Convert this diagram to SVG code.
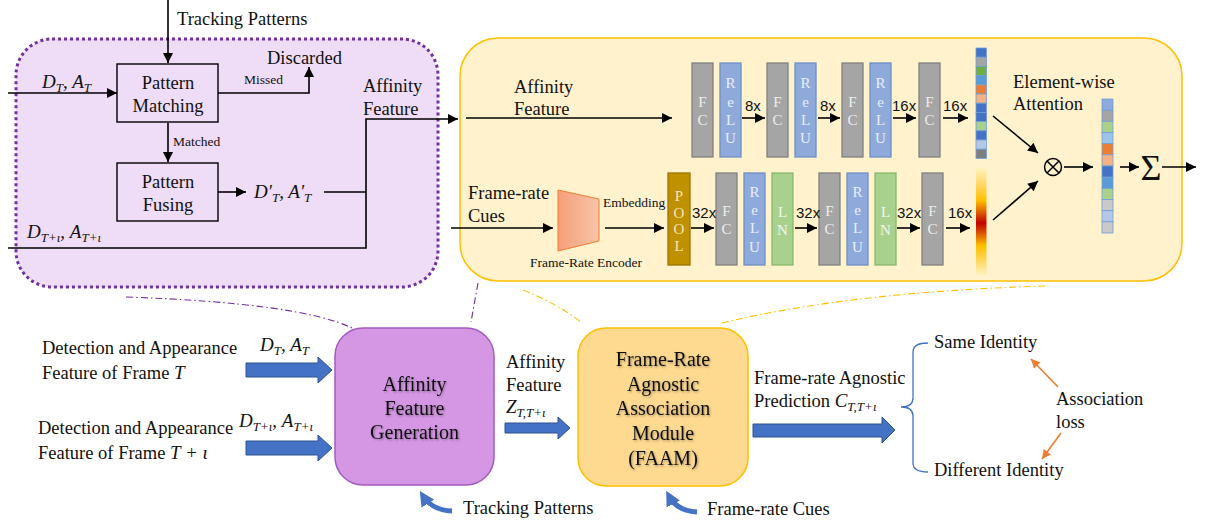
<svg xmlns="http://www.w3.org/2000/svg" width="1207" height="524" viewBox="0 0 1207 524">
<defs>
<style>
.t{font-family:"Liberation Serif","Times New Roman",serif;font-size:18.5px;fill:#111}
.ts{font-family:"Liberation Serif","Times New Roman",serif;font-size:13.5px;fill:#111}
.m{font-family:"Liberation Serif","Times New Roman",serif;font-style:italic;font-size:19px;fill:#111}
.sb{font-size:13px}
.n{font-family:"Liberation Sans",Arial,sans-serif;font-size:15px;fill:#111}
.big{font-family:"Liberation Serif","Times New Roman",serif;font-size:20px;fill:#111}
.bl{font-family:"Liberation Serif","Times New Roman",serif;font-size:15px;text-anchor:middle}
.ln{fill:none;stroke:#000;stroke-width:1.4}
.ah{fill:none;stroke:#000;stroke-width:1.6;marker-end:url(#ah)}
.fc{fill:#a5a5a5;stroke:#808080;stroke-width:1.3}
.relu{fill:#8eaadb;stroke:#6f8fc6;stroke-width:1.3}
.lnb{fill:#a9d18e;stroke:#88b86a;stroke-width:1.3}
.pool{fill:#bf9000;stroke:#9c7600;stroke-width:1.3}
.barrow{fill:#4472c4;stroke:#2f528f;stroke-width:1}
.cell{stroke:#6f9fd8;stroke-width:0.8}
.dpu{fill:none;stroke:#7030a0;stroke-width:1.1;stroke-dasharray:7 3 1.5 3}
.dye{fill:none;stroke:#ffc000;stroke-width:1.1;stroke-dasharray:7 3 1.5 3}
</style>
<marker id="ah" viewBox="0 0 10 10" refX="10" refY="5" markerWidth="11" markerHeight="10" markerUnits="userSpaceOnUse" orient="auto"><path d="M0,0 L10,5 L0,10 z" fill="#000"/></marker>
<marker id="ao" viewBox="0 0 10 10" refX="10" refY="5" markerWidth="10" markerHeight="9" markerUnits="userSpaceOnUse" orient="auto"><path d="M0,0 L10,5 L0,10 z" fill="#ed7d31"/></marker>
<marker id="ab" viewBox="0 0 10 10" refX="6" refY="5" markerWidth="15" markerHeight="15" markerUnits="userSpaceOnUse" orient="auto"><path d="M0,0 L10,5 L0,10 z" fill="#4472c4"/></marker>
<linearGradient id="trap" x1="0" y1="0" x2="1" y2="0"><stop offset="0" stop-color="#f4a07a"/><stop offset="1" stop-color="#f8c4a8"/></linearGradient>
<linearGradient id="heat" x1="0" y1="0" x2="0" y2="1"><stop offset="0" stop-color="#fff2c0"/><stop offset="0.15" stop-color="#ffd966"/><stop offset="0.3" stop-color="#ffc000"/><stop offset="0.51" stop-color="#c00000"/><stop offset="0.72" stop-color="#ffc000"/><stop offset="0.87" stop-color="#ffd966"/><stop offset="1" stop-color="#fff2c8"/></linearGradient>
<filter id="sh" x="-10%" y="-10%" width="120%" height="130%"><feDropShadow dx="1" dy="1.2" stdDeviation="0.8" flood-color="#000" flood-opacity="0.35"/></filter>
</defs>
<rect width="1207" height="524" fill="#fff"/>

<!-- containers -->
<g id="affinity-generation-detail">
<rect x="16" y="39" width="422" height="248" rx="36" fill="#efdcf6" stroke="#7030a0" stroke-width="3" stroke-dasharray="3 3"/>
</g>
<g id="faam-detail">
<rect x="460" y="38" width="722" height="243" rx="38" fill="#fff2cc" stroke="#ffc000" stroke-width="1.5"/>
</g>

<!-- connectors -->
<g id="connectors">
<path class="dpu" d="M126,297 Q300,303 352,328"/>
<path class="dpu" d="M478,283 L471,322"/>
<path class="dye" d="M523,290 Q560,305 582,323"/>
<path class="dye" d="M722,323 Q850,292 1045,286"/>

<line class="ah" x1="168" y1="0" x2="168" y2="63"/>
<line class="ah" x1="8" y1="93" x2="117" y2="93"/>
<polyline class="ah" points="218,93 309,93 309,67"/>
<line class="ah" x1="168" y1="123" x2="168" y2="162"/>
<line class="ah" x1="218" y1="192" x2="246" y2="192"/>
<line class="ln" x1="324" y1="192" x2="366" y2="192"/>
<polyline class="ah" points="8,248 366,248 366,119 458,119"/>

<line class="ah" x1="466" y1="118" x2="672" y2="118"/>
<line class="ah" x1="451" y1="228" x2="553" y2="228"/>
<line class="ah" x1="605" y1="228" x2="664" y2="228"/>

<line class="ah" x1="742" y1="118" x2="765" y2="118"/>
<line class="ah" x1="818" y1="118" x2="840" y2="118"/>
<line class="ah" x1="893" y1="118" x2="916" y2="118"/>
<line class="ah" x1="943" y1="118" x2="968" y2="118"/>

<line class="ah" x1="691" y1="228" x2="714" y2="228"/>
<line class="ah" x1="795" y1="228" x2="817" y2="228"/>
<line class="ah" x1="897" y1="228" x2="920" y2="228"/>
<line class="ah" x1="946" y1="228" x2="970" y2="228"/>

<line class="ah" x1="993" y1="116" x2="1038" y2="153"/>
<line class="ah" x1="993" y1="220" x2="1038" y2="181"/>
<line class="ah" x1="1064" y1="167" x2="1093" y2="167"/>
<line class="ah" x1="1120" y1="167" x2="1139" y2="167"/>
<line class="ah" x1="1162" y1="167" x2="1196" y2="167"/>

<!-- block arrows -->
<path class="barrow" d="M246,363 H318 V357 L332,370 L318,383 V377 H246 Z"/>
<path class="barrow" d="M246,441 H318 V435 L332,448 L318,461 V455 H246 Z"/>
<path class="barrow" d="M505,423 H558 V417 L570,428 L558,439 V433 H505 Z"/>
<path class="barrow" d="M753,424 H882 V417 L895,430 L882,443 V437 H753 Z"/>

<!-- curved blue arrows -->
<path d="M452,511 Q432,510 423,496" fill="none" stroke="#4472c4" stroke-width="5" marker-end="url(#ab)"/>
<path d="M697,512 Q677,511 669,496" fill="none" stroke="#4472c4" stroke-width="5" marker-end="url(#ab)"/>

<!-- brace -->
<path d="M928,343 Q913,343 913,352 L913,398 Q913,407 901,407 Q913,407 913,416 L913,463 Q913,472 928,472" fill="none" stroke="#4472c4" stroke-width="1.3"/>

<!-- orange arrows -->
<line x1="1058" y1="387" x2="1031" y2="359" stroke="#ed7d31" stroke-width="1.6" marker-end="url(#ao)"/>
<line x1="1061" y1="433" x2="1042" y2="459" stroke="#ed7d31" stroke-width="1.6" marker-end="url(#ao)"/>
</g>

<!-- top-left detail nodes -->
<text class="t" x="177" y="25">Tracking Patterns</text>
<g id="pattern-matching">
<rect x="117" y="64" width="101" height="58" fill="#efdcf6" stroke="#000" stroke-width="1.4"/>
<text class="t" x="168" y="89" text-anchor="middle">Pattern</text>
<text class="t" x="168" y="112" text-anchor="middle">Matching</text>
</g>
<g id="pattern-fusing">
<rect x="117" y="163" width="101" height="58" fill="#efdcf6" stroke="#000" stroke-width="1.4"/>
<text class="t" x="168" y="188" text-anchor="middle">Pattern</text>
<text class="t" x="168" y="211" text-anchor="middle">Fusing</text>
</g>
<text class="m" x="42" y="88">D<tspan class="sb" dy="4">T</tspan><tspan dy="-4">, A</tspan><tspan class="sb" dy="4">T</tspan></text>
<text class="ts" x="244" y="84">Missed</text>
<text class="t" x="267" y="64">Discarded</text>
<text class="ts" x="173" y="146">Matched</text>
<text class="m" x="254" y="198">D′<tspan class="sb" dy="4">T</tspan><tspan dy="-4">, A′</tspan><tspan class="sb" dy="4">T</tspan></text>
<text class="t" x="363" y="92">Affinity</text>
<text class="t" x="363" y="115">Feature</text>
<text class="m" x="27" y="238">D<tspan class="sb" dy="4">T+ι</tspan><tspan dy="-4">, A</tspan><tspan class="sb" dy="4">T+ι</tspan></text>

<!-- FAAM detail -->
<text class="t" x="514" y="93">Affinity</text>
<text class="t" x="514" y="115">Feature</text>
<text class="t" x="468" y="199">Frame-rate</text>
<text class="t" x="468" y="222">Cues</text>

<g id="frame-rate-encoder">
<polygon points="558,190 599,199 599,241 558,251" fill="url(#trap)" stroke="#ed7d31" stroke-width="1"/>
<text class="ts" x="586" y="267" text-anchor="middle">Frame-Rate Encoder</text>
</g>
<text class="ts" x="603" y="207">Embedding</text>

<g id="top-branch">
<rect class="fc" x="692" y="63" width="21" height="94"/>
<text class="bl" fill="#eee"><tspan x="702.5" y="107">F</tspan><tspan x="702.5" y="125">C</tspan></text>
<rect class="relu" x="720" y="63" width="21" height="94"/>
<text class="bl" fill="#e8eef8"><tspan x="730.5" y="88">R</tspan><tspan x="730.5" y="107">e</tspan><tspan x="730.5" y="125">L</tspan><tspan x="730.5" y="143">U</tspan></text>
<rect class="fc" x="767" y="63" width="21" height="94"/>
<text class="bl" fill="#eee"><tspan x="777.5" y="107">F</tspan><tspan x="777.5" y="125">C</tspan></text>
<rect class="relu" x="795" y="63" width="21" height="94"/>
<text class="bl" fill="#e8eef8"><tspan x="805.5" y="88">R</tspan><tspan x="805.5" y="107">e</tspan><tspan x="805.5" y="125">L</tspan><tspan x="805.5" y="143">U</tspan></text>
<rect class="fc" x="842" y="63" width="21" height="94"/>
<text class="bl" fill="#eee"><tspan x="852.5" y="107">F</tspan><tspan x="852.5" y="125">C</tspan></text>
<rect class="relu" x="870" y="63" width="21" height="94"/>
<text class="bl" fill="#e8eef8"><tspan x="880.5" y="88">R</tspan><tspan x="880.5" y="107">e</tspan><tspan x="880.5" y="125">L</tspan><tspan x="880.5" y="143">U</tspan></text>
<rect class="fc" x="919" y="63" width="21" height="94"/>
<text class="bl" fill="#eee"><tspan x="929.5" y="107">F</tspan><tspan x="929.5" y="125">C</tspan></text>
<text class="n" x="745" y="111">8x</text>
<text class="n" x="820" y="111">8x</text>
<text class="n" x="892" y="111">16x</text>
<text class="n" x="943" y="111">16x</text>
</g>

<g id="bottom-branch">
<rect class="pool" x="668" y="173" width="22" height="92"/>
<text class="bl" fill="#f6e6b8"><tspan x="679" y="201">P</tspan><tspan x="679" y="218">O</tspan><tspan x="679" y="234">O</tspan><tspan x="679" y="251">L</tspan></text>
<rect class="fc" x="716" y="173" width="21" height="92"/>
<text class="bl" fill="#eee"><tspan x="726.5" y="216">F</tspan><tspan x="726.5" y="234">C</tspan></text>
<rect class="relu" x="744" y="173" width="21" height="92"/>
<text class="bl" fill="#e8eef8"><tspan x="754.5" y="197">R</tspan><tspan x="754.5" y="215">e</tspan><tspan x="754.5" y="233">L</tspan><tspan x="754.5" y="252">U</tspan></text>
<rect class="lnb" x="772" y="173" width="21" height="92"/>
<text class="bl" fill="#f0f7ea"><tspan x="782.5" y="217">L</tspan><tspan x="782.5" y="235">N</tspan></text>
<rect class="fc" x="819" y="173" width="21" height="92"/>
<text class="bl" fill="#eee"><tspan x="829.5" y="216">F</tspan><tspan x="829.5" y="234">C</tspan></text>
<rect class="relu" x="847" y="173" width="21" height="92"/>
<text class="bl" fill="#e8eef8"><tspan x="857.5" y="197">R</tspan><tspan x="857.5" y="215">e</tspan><tspan x="857.5" y="233">L</tspan><tspan x="857.5" y="252">U</tspan></text>
<rect class="lnb" x="875" y="173" width="21" height="92"/>
<text class="bl" fill="#f0f7ea"><tspan x="885.5" y="217">L</tspan><tspan x="885.5" y="235">N</tspan></text>
<rect class="fc" x="922" y="173" width="21" height="92"/>
<text class="bl" fill="#eee"><tspan x="932.5" y="216">F</tspan><tspan x="932.5" y="234">C</tspan></text>
<text class="n" x="692" y="218">32x</text>
<text class="n" x="796" y="218">32x</text>
<text class="n" x="897" y="218">32x</text>
<text class="n" x="948" y="218">16x</text>
</g>

<g id="affinity-vector">
<rect class="cell" x="976" y="48" width="10.5" height="9.2" fill="#4472c4"/>
<rect class="cell" x="976" y="57.2" width="10.5" height="9.2" fill="#a5a5a5"/>
<rect class="cell" x="976" y="66.4" width="10.5" height="9.2" fill="#70ad47"/>
<rect class="cell" x="976" y="75.6" width="10.5" height="9.2" fill="#5b9bd5"/>
<rect class="cell" x="976" y="84.8" width="10.5" height="9.2" fill="#ed7d31"/>
<rect class="cell" x="976" y="94" width="10.5" height="9.2" fill="#f4b183"/>
<rect class="cell" x="976" y="103.2" width="10.5" height="9.2" fill="#4472c4"/>
<rect class="cell" x="976" y="112.4" width="10.5" height="9.2" fill="#4472c4"/>
<rect class="cell" x="976" y="121.6" width="10.5" height="9.2" fill="#a9d18e"/>
<rect class="cell" x="976" y="130.8" width="10.5" height="9.2" fill="#4472c4"/>
<rect class="cell" x="976" y="140" width="10.5" height="9.2" fill="#b4c7e7"/>
<rect class="cell" x="976" y="149.2" width="10.5" height="9.2" fill="#7f7f7f"/>
</g>
<g id="attention-bar">
<rect x="976" y="168" width="10.5" height="108" fill="url(#heat)"/>
</g>
<text class="t" x="1013" y="88">Element-wise</text>
<text class="t" x="1013" y="110">Attention</text>
<g id="multiply">
<circle cx="1053" cy="167" r="8.5" fill="none" stroke="#000" stroke-width="1.5"/>
<path d="M1047,161 L1059,173 M1059,161 L1047,173" stroke="#000" stroke-width="1.5"/>
</g>
<g id="weighted-vector">
<rect class="cell" x="1102" y="99" width="11" height="11.17" fill="#8faadc"/>
<rect class="cell" x="1102" y="110.17" width="11" height="11.17" fill="#a5a5a5"/>
<rect class="cell" x="1102" y="121.33" width="11" height="11.17" fill="#a9d18e"/>
<rect class="cell" x="1102" y="132.5" width="11" height="11.17" fill="#9dc3e6"/>
<rect class="cell" x="1102" y="143.67" width="11" height="11.17" fill="#ed7d31"/>
<rect class="cell" x="1102" y="154.83" width="11" height="11.17" fill="#f4b183"/>
<rect class="cell" x="1102" y="166" width="11" height="11.17" fill="#4472c4"/>
<rect class="cell" x="1102" y="177.17" width="11" height="11.17" fill="#5b9bd5"/>
<rect class="cell" x="1102" y="188.33" width="11" height="11.17" fill="#a9d18e"/>
<rect class="cell" x="1102" y="199.5" width="11" height="11.17" fill="#c9c9c9"/>
<rect class="cell" x="1102" y="210.67" width="11" height="11.17" fill="#b4c7e7"/>
<rect class="cell" x="1102" y="221.83" width="11" height="11.17" fill="#c9c9c9"/>
</g>
<g id="sum">
<text x="1151" y="180" text-anchor="middle" font-family="Liberation Serif, serif" font-size="36" fill="#111">Σ</text>
</g>

<!-- bottom pipeline -->
<text class="t" x="42" y="354">Detection and Appearance</text>
<text class="t" x="42" y="379">Feature of Frame <tspan font-style="italic" font-size="19">T</tspan></text>
<text class="m" x="260" y="351">D<tspan class="sb" dy="4">T</tspan><tspan dy="-4">, A</tspan><tspan class="sb" dy="4">T</tspan></text>
<text class="t" x="38" y="434">Detection and Appearance</text>
<text class="t" x="38" y="459">Feature of Frame <tspan font-style="italic" font-size="19">T + ι</tspan></text>
<text class="m" x="239" y="427">D<tspan class="sb" dy="4">T+ι</tspan><tspan dy="-4">, A</tspan><tspan class="sb" dy="4">T+ι</tspan></text>

<g id="affinity-feature-generation">
<rect x="335" y="328" width="159" height="157" rx="28" fill="#d597e4" stroke="#a25bbf" stroke-width="1.5"/>
<g filter="url(#sh)">
<text class="big" x="414.5" y="391" text-anchor="middle">Affinity</text>
<text class="big" x="414.5" y="415" text-anchor="middle">Feature</text>
<text class="big" x="414.5" y="439" text-anchor="middle">Generation</text>
</g>
</g>
<text class="t" x="506" y="368">Affinity</text>
<text class="t" x="506" y="391">Feature</text>
<text class="m" x="506" y="413">Z<tspan class="sb" dy="4">T,T+ι</tspan></text>

<g id="faam">
<rect x="578" y="328" width="170" height="158" rx="28" fill="#fed990" stroke="#ffc000" stroke-width="1.5"/>
<g filter="url(#sh)">
<text class="big" x="663" y="366" text-anchor="middle">Frame-Rate</text>
<text class="big" x="663" y="391" text-anchor="middle">Agnostic</text>
<text class="big" x="663" y="415" text-anchor="middle">Association</text>
<text class="big" x="663" y="440" text-anchor="middle">Module</text>
<text class="big" x="663" y="465" text-anchor="middle">(FAAM)</text>
</g>
</g>
<text class="t" x="754" y="384">Frame-rate Agnostic</text>
<text class="t" x="754" y="407">Prediction <tspan font-style="italic" font-size="19">C</tspan><tspan font-style="italic" font-size="13" dy="4">T,T+ι</tspan></text>

<g id="same-identity"><text class="t" x="934" y="348">Same Identity</text></g>
<g id="different-identity"><text class="t" x="934" y="476">Different Identity</text></g>
<g id="association-loss">
<text class="t" x="1056" y="405">Association</text>
<text class="t" x="1056" y="428">loss</text>
</g>
<text class="t" x="463" y="514">Tracking Patterns</text>
<text class="t" x="707" y="515">Frame-rate Cues</text>
</svg>
